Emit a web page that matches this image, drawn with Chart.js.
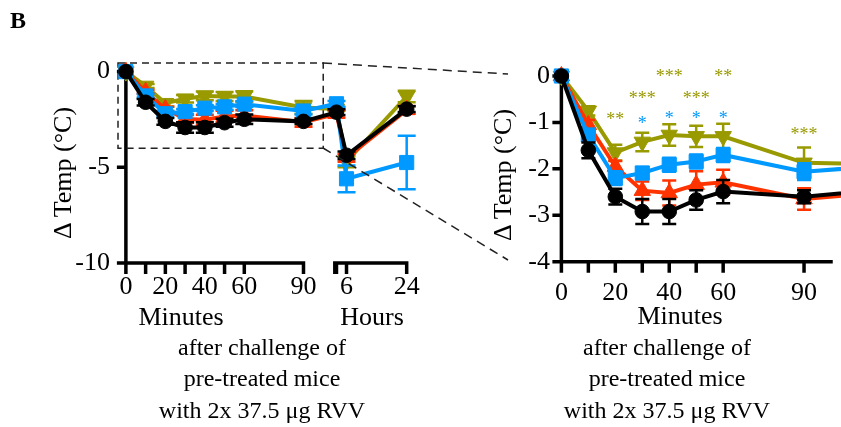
<!DOCTYPE html>
<html>
<head>
<meta charset="utf-8">
<style>
  html, body { margin: 0; padding: 0; background: #fff; overflow: hidden; }
  #wrap { position: relative; width: 841px; height: 427px; font-family: 'Liberation Serif', 'Times New Roman', serif; color: #000; }
  canvas { position: absolute; top: 0; }
  svg { position: absolute; left: 0; top: 0; pointer-events: none; }
  .t { position: absolute; white-space: nowrap; transform: translate(-50%, -50%); font-size: 26px; line-height: 1; }
  .r { transform: translate(-50%, -50%) rotate(-90deg); }
  .s { font-size: 24px; }
</style>
</head>
<body>
<div id="wrap">
  <canvas id="left" width="430" height="305" style="left:0"></canvas>
  <canvas id="right" width="412" height="305" style="left:430px"></canvas>
  <svg width="841" height="427">
    <line x1="323" y1="63" x2="508" y2="74" stroke="#222" stroke-width="1.5" stroke-dasharray="9 6"/>
    <line x1="323" y1="148" x2="508" y2="260" stroke="#222" stroke-width="1.5" stroke-dasharray="9 6"/>
  </svg>
  <div class="t" style="left:18px;top:20px;font-weight:bold;font-size:24px">B</div>
  <div class="t r" style="left:63px;top:173px">Δ Temp (°C)</div>
  <div class="t r" style="left:503px;top:175px">Δ Temp (°C)</div>
  <div class="t" style="left:181px;top:317px">Minutes</div>
  <div class="t" style="left:372px;top:317px">Hours</div>
  <div class="t" style="left:680px;top:316px">Minutes</div>
  <div class="t s" style="left:262px;top:347px">after challenge of</div>
  <div class="t s" style="left:262px;top:378px">pre-treated mice</div>
  <div class="t s" style="left:262px;top:410px">with 2x 37.5 μg RVV</div>
  <div class="t s" style="left:667px;top:347px">after challenge of</div>
  <div class="t s" style="left:667px;top:378px">pre-treated mice</div>
  <div class="t s" style="left:667px;top:410px">with 2x 37.5 μg RVV</div>
</div>
<script src="https://cdn.jsdelivr.net/npm/chart.js"></script>
<script>
// sampling times
const minutes = [0, 10, 20, 30, 40, 50, 60, 90];
const hours = [3, 6, 24];

// mean change in temperature, minutes then hours
const olive = [0, -0.75, -1.65, -1.42, -1.27, -1.30, -1.30, -1.87, -1.95, -4.70, -1.30];
const red   = [0, -1.05, -1.95, -2.47, -2.52, -2.34, -2.29, -2.65, -2.20, -4.50, -2.00];
const blue  = [0, -1.27, -2.20, -2.09, -1.91, -1.84, -1.70, -2.06, -1.68, -5.60, -4.75];
const black = [0, -1.60, -2.60, -2.92, -2.92, -2.67, -2.49, -2.60, -2.12, -4.37, -1.96];

// SEM
const oliveErr = [0, 0.10, 0.17, 0.20, 0.23, 0.23, 0.27, 0.33, 0.10, 0.30, 0.30];
const redErr   = [0, 0.10, 0.12, 0.20, 0.27, 0.29, 0.27, 0.23, 0.20, 0.20, 0.20];
const blueErr  = [0, 0.10, 0.15, 0.13, 0.15, 0.15, 0.15, 0.18, 0.15, 0.70, 1.40];
const blackErr = [0, 0.17, 0.17, 0.27, 0.27, 0.21, 0.25, 0.14, 0.15, 0.20, 0.15];

// significance marks (minutes only)
const sigOlive = ['', '', '**', '***', '***', '***', '**', '***'];
const sigBlue  = ['', '', '', '*', '*', '*', '*', ''];
const sigOliveAt = [0, 0, -0.87, -0.41, 0.07, -0.41, 0.07, -1.18];
const sigBlueAt  = [0, 0, 0, -0.95, -0.84, -0.84, -0.84, 0];

// ticks
const yTicksLeft = [0, -5, -10];
const yTicksRight = [0, -1, -2, -3, -4];
const xLabelsMin = ['0', '', '20', '', '40', '', '60', '90'];
const xLabelsHours = ['', '6', '24'];

Chart.defaults.font.family = "'Liberation Serif', 'Times New Roman', serif";
Chart.defaults.font.size = 26;
Chart.defaults.color = '#000';

// broken axis on the left panel: hours placed after the minutes part
const hourPos = h => 111.8 + (h - 6) * 1.694;

// first entry is drawn on top
const series = [
  { color: '#000000', style: 'circle', rot: 0, y: black, err: blackErr, r: 7.3 },
  { color: '#0099ff', style: 'rect', rot: 0, y: blue, err: blueErr, r: 10 },
  { color: '#ff3300', style: 'triangle', rot: 0, y: red, err: redErr, r: 9.5 },
  { color: '#999900', style: 'triangle', rot: 180, y: olive, err: oliveErr, r: 9.5 }
];

function makeSets(xs) {
  return series.map(s => ({
    data: xs.map((x, i) => ({ x: x, y: s.y[i] })),
    errors: s.err,
    borderColor: s.color,
    backgroundColor: s.color,
    borderWidth: 4,
    pointStyle: s.style,
    pointRotation: s.rot,
    pointRadius: s.r,
    pointBorderWidth: 1,
    pointBorderColor: s.color,
    pointBackgroundColor: s.color,
    clip: false,
    tension: 0
  }));
}

const errorBars = {
  id: 'errorBars',
  beforeDatasetDraw(chart, args, o) {
    const ds = chart.data.datasets[args.index];
    const { ctx, chartArea } = chart;
    const ys = chart.scales.y;
    ctx.save();
    ctx.strokeStyle = ds.borderColor;
    ctx.lineWidth = o.width;
    args.meta.data.forEach((pt, j) => {
      const e = ds.errors[j];
      if (!e || pt.x > chartArea.right + 2) return;
      const v = ds.data[j].y;
      const t = ys.getPixelForValue(v + e), b = ys.getPixelForValue(v - e);
      ctx.beginPath();
      ctx.moveTo(pt.x, t); ctx.lineTo(pt.x, b);
      ctx.moveTo(pt.x - o.cap, t); ctx.lineTo(pt.x + o.cap, t);
      ctx.moveTo(pt.x - o.cap, b); ctx.lineTo(pt.x + o.cap, b);
      ctx.stroke();
    });
    ctx.restore();
  }
};

const axes = {
  id: 'axes',
  beforeDatasetsDraw(chart, args, o) {
    const { ctx } = chart;
    const xs = chart.scales.x, ys = chart.scales.y;
    const lw = o.lw;
    const x0 = xs.getPixelForValue(0);
    const yb = ys.getPixelForValue(ys.min);
    ctx.save();
    ctx.strokeStyle = '#000';
    ctx.lineWidth = lw;
    ctx.beginPath();
    ctx.moveTo(x0, ys.getPixelForValue(o.yTop));
    ctx.lineTo(x0, yb + lw / 2);
    o.yTicks.forEach(v => {
      const p = ys.getPixelForValue(v);
      ctx.moveTo(x0 - o.tick, p); ctx.lineTo(x0, p);
    });
    o.segments.forEach(([a, b]) => {
      ctx.moveTo(Math.max(xs.getPixelForValue(a) - lw / 2, 0), yb);
      ctx.lineTo(Math.min(xs.getPixelForValue(b) + lw / 2, chart.width), yb);
    });
    o.xTicks.forEach(v => {
      const p = xs.getPixelForValue(v);
      ctx.moveTo(p, yb); ctx.lineTo(p, yb + o.tick + 2);
    });
    ctx.stroke();
    if (o.box) {
      ctx.setLineDash([7, 5]);
      ctx.lineWidth = 1.5;
      ctx.strokeStyle = '#222';
      const [bx0, bx1, by0, by1] = o.box;
      const l = xs.getPixelForValue(bx0), r = xs.getPixelForValue(bx1);
      const t = ys.getPixelForValue(by0), b = ys.getPixelForValue(by1);
      ctx.strokeRect(l, t, r - l, b - t);
    }
    ctx.restore();
  }
};

const stars = {
  id: 'stars',
  afterDatasetsDraw(chart, args, o) {
    if (!o.sets) return;
    const { ctx } = chart;
    ctx.save();
    ctx.font = o.font;
    ctx.textAlign = 'center';
    ctx.textBaseline = 'alphabetic';
    o.sets.forEach(s => s.marks.forEach((m, i) => {
      if (!m) return;
      ctx.fillStyle = s.color;
      ctx.fillText(m, chart.scales.x.getPixelForValue(minutes[i]), chart.scales.y.getPixelForValue(s.at[i]) + o.shift);
    }));
    ctx.restore();
  }
};

function baseOptions(cfg) {
  return {
    responsive: false,
    animation: false,
    devicePixelRatio: 1,
    events: [],
    layout: { padding: { top: cfg.top, right: cfg.right, left: 0, bottom: 0 } },
    plugins: {
      legend: { display: false },
      tooltip: { enabled: false },
      errorBars: { width: 2.5, cap: cfg.cap },
      axes: cfg.axes,
      stars: cfg.stars || {}
    },
    scales: {
      x: {
        type: 'linear', min: cfg.xmin, max: cfg.xmax,
        grid: { display: false, drawTicks: false }, border: { display: false },
        afterFit: s => { s.height = cfg.xh; },
        afterBuildTicks: s => { s.ticks = cfg.xTicks.map(v => ({ value: v })); },
        ticks: { autoSkip: false, maxRotation: 0, padding: cfg.xpad, callback: (v, i) => cfg.xLabels[i] }
      },
      y: {
        min: cfg.ymin, max: cfg.ymax,
        grid: { display: false, drawTicks: false }, border: { display: false },
        afterFit: s => { s.width = cfg.yw; },
        afterBuildTicks: s => { s.ticks = cfg.yTicks.map(v => ({ value: v })); },
        ticks: { padding: cfg.ypad }
      }
    }
  };
}

// left panel: minutes + hours on a broken axis
const leftX = minutes.concat(hours.map(hourPos));
const leftTicks = minutes.concat([hourPos(2.5)], hours.map(hourPos));
new Chart(document.getElementById('left'), {
  type: 'line',
  data: { datasets: makeSets(leftX) },
  plugins: [errorBars, axes],
  options: baseOptions({
    top: 63, right: 16, xmin: -4, xmax: 146, ymin: -10, ymax: 0.45,
    xh: 42, yw: 118, xpad: 9, ypad: 8, cap: 9,
    xTicks: leftX, xLabels: xLabelsMin.concat(xLabelsHours),
    yTicks: yTicksLeft,
    axes: {
      lw: 3.5, tick: 9, yTop: 0.2, yTicks: yTicksLeft,
      segments: [[0, 90], [hourPos(2.5), hourPos(24)]],
      xTicks: leftTicks,
      box: [-4, 100, 0.45, -4]
    }
  })
});

// right panel: zoom on the first 90 minutes
const rightX = minutes.concat(hours.map(h => h * 60));
new Chart(document.getElementById('right'), {
  type: 'line',
  data: { datasets: makeSets(rightX) },
  plugins: [errorBars, axes, stars],
  options: baseOptions({
    top: 71.35, right: 0, xmin: -2, xmax: 100, ymin: -4, ymax: 0.1,
    xh: 43.3, yw: 126, xpad: 15.7, ypad: 6, cap: 7,
    xTicks: minutes, xLabels: xLabelsMin,
    yTicks: yTicksRight,
    axes: {
      lw: 3.5, tick: 9, yTop: 0.05, yTicks: yTicksRight,
      segments: [[0, 100]],
      xTicks: minutes
    },
    stars: {
      font: "18px 'Liberation Serif', serif", shift: 9,
      sets: [
        { marks: sigOlive, at: sigOliveAt, color: '#999900' },
        { marks: sigBlue, at: sigBlueAt, color: '#0099ff' }
      ]
    }
  })
});
</script>
</body>
</html>
